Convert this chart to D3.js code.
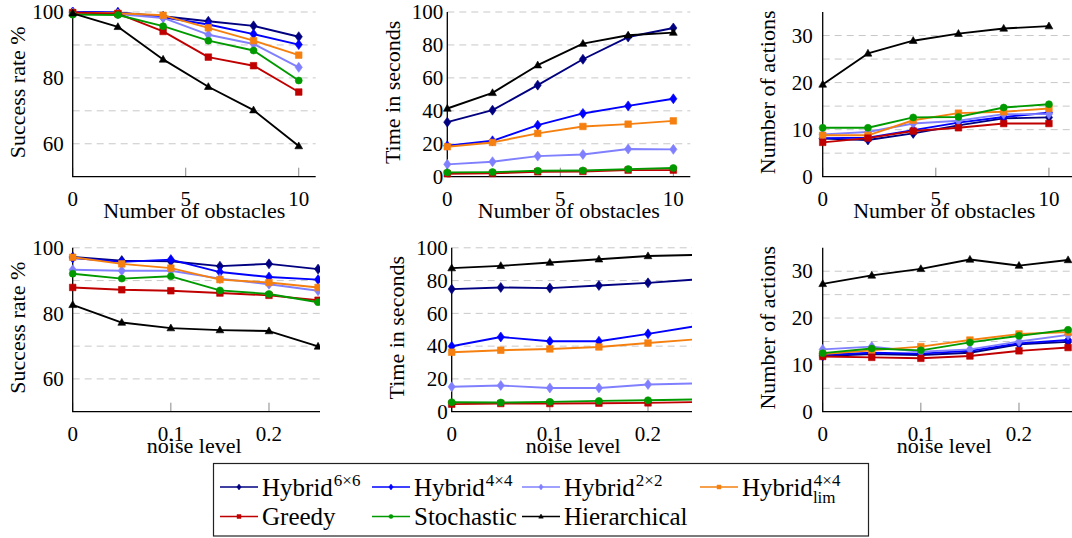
<!DOCTYPE html>
<html>
<head>
<meta charset="utf-8">
<script src="https://cdn.jsdelivr.net/npm/d3@7"></script>
</head>
<body style="margin:0">
<script>
// x values
const obstacles = [0, 2, 4, 6, 8, 10];
const noiseLevels = [0, 0.05, 0.1, 0.15, 0.2, 0.25];

// methods, in legend order (\u00d7 = multiplication sign)
const methodNames = ["Hybrid", "Hybrid", "Hybrid", "Hybrid", "Greedy", "Stochastic", "Hierarchical"];
const methodSup = ["6\u00d76", "4\u00d74", "2\u00d72", "4\u00d74", "", "", ""];
const methodSub = ["", "", "", "lim", "", "", ""];

// one row per method: 6x6, 4x4, 2x2, lim, greedy, stochastic, hierarchical
const successVsObstacles = [
  [100, 99.8, 98.7, 97.2, 95.8, 92.5],
  [100, 99.9, 98.4, 96.2, 93.3, 90.1],
  [99.8, 99.4, 98.2, 93.1, 90.3, 83.2],
  [99.8, 99.6, 99.0, 95.2, 91.3, 86.9],
  [99.8, 99.5, 94.1, 86.3, 83.7, 75.7],
  [99.2, 99.1, 95.7, 91.3, 88.3, 79.2],
  [99.6, 95.5, 85.6, 77.3, 70.2, 59.3]
];
const timeVsObstacles = [
  [33.1, 40.4, 55.6, 71.3, 84.8, 90.3],
  [18.8, 21.8, 31.3, 38.4, 43.0, 47.3],
  [7.5, 9.1, 12.5, 13.5, 16.8, 16.6],
  [18.2, 20.8, 26.3, 30.5, 31.9, 33.9],
  [1.8, 2.0, 3.0, 3.2, 4.0, 4.0],
  [2.6, 2.8, 3.6, 3.8, 4.6, 5.3],
  [41.4, 50.9, 67.7, 80.8, 85.9, 87.5]
];
const actionsVsObstacles = [
  [8.1, 7.8, 9.2, 10.9, 12.4, 12.6],
  [8.2, 8.3, 9.9, 11.5, 12.7, 13.6],
  [9.0, 9.5, 11.3, 11.9, 13.3, 13.3],
  [8.8, 8.8, 12.0, 13.5, 13.8, 14.5],
  [7.3, 8.2, 9.7, 10.4, 11.3, 11.3],
  [10.4, 10.4, 12.6, 12.7, 14.7, 15.4],
  [19.6, 26.2, 28.9, 30.4, 31.5, 32.0]
];
const successVsNoise = [
  [97.2, 96.1, 95.9, 94.4, 95.1, 93.5],
  [96.9, 95.7, 96.4, 92.6, 91.1, 90.3],
  [93.3, 93.0, 93.0, 90.6, 88.9, 86.9],
  [97.1, 95.1, 93.8, 90.3, 89.4, 87.9],
  [87.9, 87.2, 86.9, 86.2, 85.5, 84.0],
  [92.1, 90.6, 91.3, 87.0, 85.9, 83.4],
  [82.6, 77.2, 75.5, 74.9, 74.6, 69.9]
];
const timeVsNoise = [
  [74.8, 75.8, 75.4, 77.0, 78.6, 80.7],
  [39.9, 45.6, 43.0, 43.0, 47.5, 52.3],
  [15.2, 16.0, 14.5, 14.5, 16.6, 17.3],
  [36.3, 37.5, 38.3, 39.5, 41.9, 44.2],
  [4.6, 5.0, 5.0, 5.2, 5.4, 5.9],
  [5.8, 5.6, 6.0, 6.6, 7.0, 7.5],
  [87.6, 89.0, 91.0, 93.0, 95.0, 95.7]
];
const actionsVsNoise = [
  [11.9, 12.3, 12.1, 12.6, 14.4, 14.9],
  [12.1, 12.6, 12.4, 13.0, 14.6, 15.3],
  [13.3, 13.9, 12.8, 13.3, 15.0, 16.4],
  [12.3, 13.1, 13.9, 15.3, 16.6, 17.0],
  [11.8, 11.6, 11.4, 11.9, 13.0, 13.7],
  [12.5, 13.5, 13.1, 14.8, 16.2, 17.5],
  [27.3, 29.1, 30.5, 32.5, 31.2, 32.4]
];

// styles
const colors = ["#000080", "#0000ff", "#8080ff", "#f58010", "#c00000", "#009a00", "#000000"];
const markers = ["diamond", "diamond", "diamond", "square", "square", "circle", "triangle"];
const FONT = "'Liberation Serif'";

const width = 1072, height = 538;
const svg = d3.select("body").append("svg")
  .attr("width", width)
  .attr("height", height);
svg.append("rect").attr("width", width).attr("height", height).attr("fill", "#fff");

// every text goes through here so the serif face is applied
function addText(parent, size) {
  return parent.append("text")
    .attr("font-size", size)
    .style("font-family", FONT);
}

function markerPath(type, s) {
  // s = scale
  if (type == "diamond") {
    let w = 3.6 * s, h = 5 * s;
    return `M0,${-h}L${w},0L0,${h}L${-w},0Z`;
  }
  if (type == "square") {
    let a = 3.3 * s;
    return `M${-a},${-a}H${a}V${a}H${-a}Z`;
  }
  if (type == "circle") {
    let r = 3.5 * s;
    return `M${r},0A${r},${r} 0 1,1 ${-r},0A${r},${r} 0 1,1 ${r},0Z`;
  }
  let a = 3.9 * s;
  return `M0,${-a * 1.05}L${a},${a * 0.7}L${-a},${a * 0.7}Z`;
}

const topRow = { y0: 176.7, y1: 12 };
const bottomRow = { y0: 411.7, y1: 247.8 };

const panels = [
  { data: successVsObstacles, xs: obstacles, row: topRow, left: 72.7, xDomain: [0, 10.75], xWidth: 243,
    yDomain: [50, 100], yTicks: [60, 80, 100], grid: [60, 70, 80, 90, 100], xTicks: [0, 5, 10],
    yLabel: "Success rate %", xLabel: "Number of obstacles", clip: [0, 320], tickGap: 9 },
  { data: timeVsObstacles, xs: obstacles, row: topRow, left: 447.3, xDomain: [0, 10.75], xWidth: 243,
    yDomain: [0, 100], yTicks: [0, 20, 40, 60, 80, 100], grid: [20, 40, 60, 80, 100], xTicks: [0, 5, 10],
    yLabel: "Time in seconds", xLabel: "Number of obstacles", clip: [340, 692], tickGap: 4 },
  { data: actionsVsObstacles, xs: obstacles, row: topRow, left: 822.7, xDomain: [0, 11.05], xWidth: 250,
    yDomain: [0, 35], yTicks: [0, 10, 20, 30], grid: [5, 10, 15, 20, 25, 30], xTicks: [0, 5, 10],
    yLabel: "Number of actions", xLabel: "Number of obstacles", clip: [720, 1072], tickGap: 10 },
  { data: successVsNoise, xs: noiseLevels, row: bottomRow, left: 72.7, xDomain: [0, 0.27], xWidth: 265,
    yDomain: [50, 100], yTicks: [60, 80, 100], grid: [60, 70, 80, 90, 100], xTicks: [0, 0.1, 0.2],
    yLabel: "Success rate %", xLabel: "noise level", clip: [0, 320], tickGap: 9 },
  { data: timeVsNoise, xs: noiseLevels, row: bottomRow, left: 451.7, xDomain: [0, 0.27], xWidth: 265,
    yDomain: [0, 100], yTicks: [0, 20, 40, 60, 80, 100], grid: [20, 40, 60, 80, 100], xTicks: [0, 0.1, 0.2],
    yLabel: "Time in seconds", xLabel: "noise level", clip: [340, 692], tickGap: 4 },
  { data: actionsVsNoise, xs: noiseLevels, row: bottomRow, left: 822.7, xDomain: [0, 0.27], xWidth: 265,
    yDomain: [0, 35], yTicks: [0, 10, 20, 30], grid: [5, 10, 15, 20, 25, 30], xTicks: [0, 0.1, 0.2],
    yLabel: "Number of actions", xLabel: "noise level", clip: [720, 1072], tickGap: 10 }
];

panels.forEach(function (p, pi) {
  let x = d3.scaleLinear().domain(p.xDomain).range([p.left, p.left + p.xWidth]);
  let y = d3.scaleLinear().domain(p.yDomain).range([p.row.y0, p.row.y1]);

  svg.append("clipPath").attr("id", "clip" + pi)
    .append("rect")
    .attr("x", p.clip[0]).attr("y", 0)
    .attr("width", p.clip[1] - p.clip[0]).attr("height", height);

  let g = svg.append("g").attr("clip-path", "url(#clip" + pi + ")");
  let xEnd = x.range()[1];

  // grid
  g.selectAll(".grid")
    .data(p.grid)
    .join("line")
    .attr("x1", p.left).attr("x2", xEnd)
    .attr("y1", d => y(d)).attr("y2", d => y(d))
    .attr("stroke", "#c8c8c8")
    .attr("stroke-width", 1)
    .attr("stroke-dasharray", "7,5");

  // x tick marks (inward)
  g.selectAll(".xtick")
    .data(p.xTicks)
    .join("line")
    .attr("x1", d => x(d)).attr("x2", d => x(d))
    .attr("y1", p.row.y0).attr("y2", p.row.y0 - 9)
    .attr("stroke", "#888")
    .attr("stroke-width", 1);

  // axis lines
  g.append("line")
    .attr("x1", p.left).attr("x2", p.left)
    .attr("y1", p.row.y0).attr("y2", p.row.y1)
    .attr("stroke", "#000").attr("stroke-width", 1.3);
  g.append("line")
    .attr("x1", p.left - 0.6).attr("x2", xEnd)
    .attr("y1", p.row.y0).attr("y2", p.row.y0)
    .attr("stroke", "#000").attr("stroke-width", 1.3);

  // tick labels
  p.yTicks.forEach(function (v) {
    addText(g, 21)
      .attr("x", p.left - p.tickGap)
      .attr("y", y(v))
      .attr("dy", "0.34em")
      .attr("text-anchor", "end")
      .text(v);
  });
  p.xTicks.forEach(function (v) {
    addText(g, 21)
      .attr("x", x(v))
      .attr("y", p.row.y0 + 29)
      .attr("text-anchor", "middle")
      .text(v);
  });

  // axis titles
  addText(g, 22)
    .attr("x", (p.left + p.left + 243) / 2)
    .attr("y", p.row.y0 + 41)
    .attr("text-anchor", "middle")
    .text(p.xLabel);
  addText(g, 22)
    .attr("transform", "translate(" + (p.left - 47.5) + "," + ((p.row.y0 + p.row.y1) / 2 - 2) + ") rotate(-90)")
    .attr("text-anchor", "middle")
    .text(p.yLabel);

  // series
  let line = d3.line()
    .x((d, i) => x(p.xs[i]))
    .y(d => y(d));

  p.data.forEach(function (vals, m) {
    let sg = g.append("g");
    sg.append("path")
      .attr("d", line(vals))
      .attr("fill", "none")
      .attr("stroke", colors[m])
      .attr("stroke-width", 1.9)
      .attr("stroke-linejoin", "round");
    sg.selectAll("path.mk")
      .data(vals)
      .join("path")
      .attr("class", "mk")
      .attr("transform", (d, i) => "translate(" + x(p.xs[i]) + "," + y(d) + ")")
      .attr("d", markerPath(markers[m], 1))
      .attr("fill", colors[m])
      .attr("stroke", colors[m])
      .attr("stroke-width", 0.6);
  });
});

// legend: 4 columns, 2 rows (no text measuring, columns placed like the reference)
const legend = svg.append("g");
const legendCols = [220, 372, 522, 700];
const legendRows = [487, 516.5];
const sampleLen = 38;

legend.append("rect")
  .attr("x", 213.5).attr("y", 463.5)
  .attr("width", 655).attr("height", 72.5)
  .attr("fill", "#fff")
  .attr("stroke", "#222")
  .attr("stroke-width", 1.2);

methodNames.forEach(function (name, i) {
  let x0 = legendCols[i % 4];
  let yc = legendRows[Math.floor(i / 4)];

  legend.append("line")
    .attr("x1", x0).attr("x2", x0 + sampleLen)
    .attr("y1", yc).attr("y2", yc)
    .attr("stroke", colors[i])
    .attr("stroke-width", 1.5);
  legend.append("path")
    .attr("transform", "translate(" + (x0 + sampleLen / 2) + "," + yc + ")")
    .attr("d", markerPath(markers[i], 0.6))
    .attr("fill", colors[i])
    .attr("stroke", colors[i])
    .attr("stroke-width", 0.5);

  let t = addText(legend, 25)
    .attr("x", x0 + sampleLen + 4)
    .attr("y", yc + 8.5);
  t.append("tspan").text(name);
  if (methodSup[i]) {
    t.append("tspan")
      .attr("font-size", 17)
      .attr("dx", 1)
      .attr("dy", -9.5)
      .text(methodSup[i]);
  }
  if (methodSub[i]) {
    t.append("tspan")
      .attr("font-size", 17)
      .attr("dx", "-1.62em")
      .attr("dy", 16.5)
      .text(methodSub[i]);
  }
});
</script>
</body>
</html>
